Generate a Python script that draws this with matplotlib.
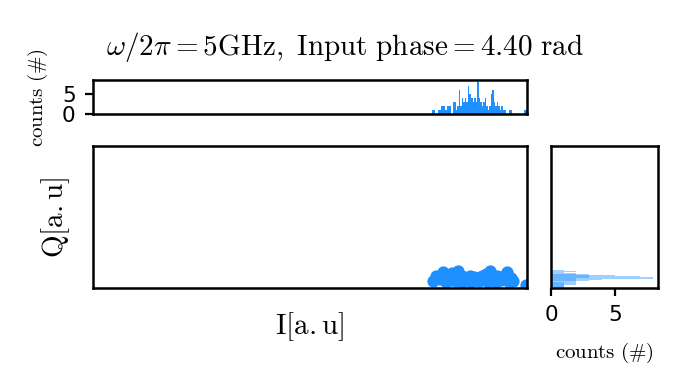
import numpy as np
import matplotlib
matplotlib.use("Agg")
import matplotlib.pyplot as plt

plt.rcParams['mathtext.fontset'] = 'cm'
plt.rcParams['font.family'] = 'DejaVu Sans'

color = 'dodgerblue'

# measured IQ points (arbitrary units)
I_pts = [0.783, 0.790, 0.800, 0.806, 0.816, 0.825, 0.828, 0.841, 0.850, 0.836,
         0.859, 0.869, 0.878, 0.889, 0.896, 0.906, 0.915, 0.922, 0.931, 0.940,
         0.947, 0.954, 0.963, 0.968, 0.959, 0.910, 0.871, 0.813, 0.850, 0.929,
         0.998]
Q_pts = [0.049, 0.085, 0.063, 0.113, 0.085, 0.056, 0.106, 0.120, 0.085, 0.049,
         0.056, 0.085, 0.077, 0.049, 0.085, 0.099, 0.120, 0.070, 0.085, 0.056,
         0.085, 0.113, 0.070, 0.049, 0.042, 0.042, 0.042, 0.042, 0.042, 0.042,
         0.021]

# histogram of I: counts per bin, bins start at I_start with width I_width
I_start = 0.7765
I_width = 0.0035
I_counts = [0, 1, 1, 0, 0, 1, 1, 2, 2, 2,
            1, 2, 2, 2, 0, 3, 3, 1, 2, 6,
            2, 4, 3, 4, 3, 7, 5, 4, 3, 4,
            3, 8, 4, 3, 2, 3, 4, 2, 1, 2,
            5, 6, 3, 2, 3, 2, 1, 2, 1, 1,
            0, 0, 1, 1, 0, 0, 0, 0, 0, 0,
            0, 0, 1, 1]

# histogram of Q: non-empty bins (centre, count), bin height Q_width
Q_width = 0.008
Q_centers = [0.123, 0.116, 0.109, 0.102, 0.095, 0.092, 0.088, 0.085, 0.081, 0.077,
             0.070, 0.067, 0.060, 0.056, 0.053, 0.046, 0.039, 0.035, 0.028, 0.021,
             0.014, 0.007]
Q_counts = [1, 2, 1, 2, 3, 2, 3, 5, 7, 3,
            8, 2, 4, 2, 3, 2, 2, 1, 2, 1,
            1, 1]

fig = plt.figure(figsize=(6.85, 3.68), dpi=100)
ax = fig.add_axes([0.1358, 0.2174, 0.6335, 0.3859])
ax_top = fig.add_axes([0.1358, 0.6889, 0.6335, 0.0937])
ax_right = fig.add_axes([0.8044, 0.2174, 0.1562, 0.3859])

# scatter of single shots
ax.scatter(I_pts, Q_pts, s=78, color=color, linewidths=0)
ax.set_xlim(0, 1)
ax.set_ylim(0, 1)
ax.set_xticks([])
ax.set_yticks([])
ax.set_xlabel(r'$\mathrm{I[a.u]}$', fontsize=21, labelpad=16)
ax.set_ylabel(r'$\mathrm{Q[a.u]}$', fontsize=21, labelpad=15)

# marginal histogram in I
edges = I_start + I_width * np.arange(len(I_counts) + 1)
ax_top.stairs(I_counts, edges, fill=True, color=color, linewidth=0)
ax_top.set_xlim(0, 1)
ax_top.set_ylim(0, 8.4)
ax_top.set_xticks([])
ax_top.set_yticks([0, 5])
ax_top.set_ylabel(r'$\mathrm{counts\ (\#)}$', fontsize=15)
ax_top.yaxis.set_label_coords(-0.099, 0.5)

# marginal histogram in Q
ax_right.barh(Q_centers, Q_counts, height=Q_width, color=color, alpha=0.42,
              linewidth=0)
ax_right.set_ylim(0, 1)
ax_right.set_xlim(0, 8.4)
ax_right.set_yticks([])
ax_right.set_xticks([0, 5])
ax_right.set_xlabel(r'$\mathrm{counts\ (\#)}$', fontsize=15)
ax_right.xaxis.set_label_coords(0.5, -0.37)

for a in (ax, ax_top, ax_right):
    for sp in a.spines.values():
        sp.set_linewidth(1.8)
    a.tick_params(labelsize=15.5, width=1.6, length=5.5, pad=7)

fig.text(0.503, 0.872, r'$\omega/2\pi=5\mathrm{GHz},\ \mathrm{Input\ phase}=4.40\ \mathrm{rad}$',
         fontsize=21, ha='center', va='center')

fig.savefig('out.png', dpi=100)
